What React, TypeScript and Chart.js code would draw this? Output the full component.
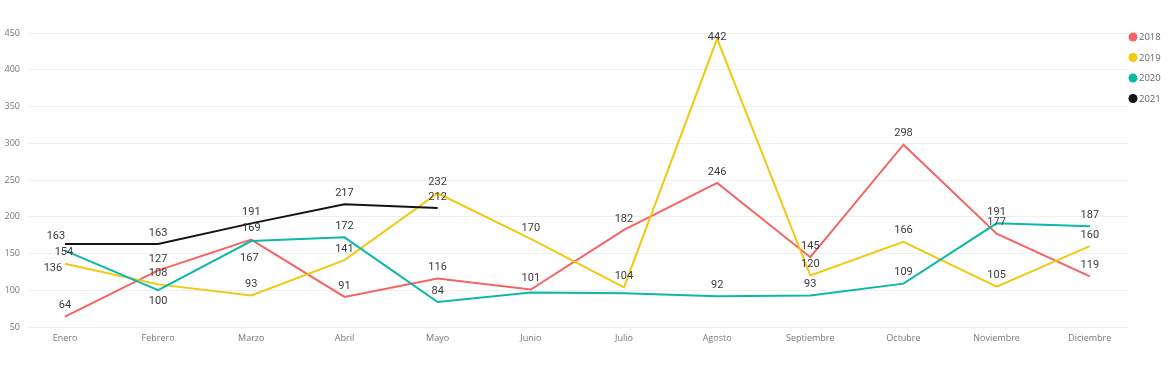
import React, { useEffect, useRef } from "react";
import { Chart, registerables } from "chart.js";

Chart.register(...registerables);

const months = [
  "Enero", "Febrero", "Marzo", "Abril", "Mayo", "Junio",
  "Julio", "Agosto", "Septiembre", "Octubre", "Noviembre", "Diciembre",
];
const seriesNames = ["2018", "2019", "2020", "2021"];
const values2018 = [64, 127, 169, 91, 116, 101, 182, 246, 145, 298, 177, 119];
const values2019 = [136, 108, 93, 141, 232, 170, 104, 442, 120, 166, 105, 160];
const values2020 = [154, 100, 167, 172, 84, 97, 96, 92, 93, 109, 191, 187];
const values2021 = [163, 163, 191, 217, 212];
const yTicks = [50, 100, 150, 200, 250, 300, 350, 400, 450];

const seriesColors = ["#F56462", "#F2C811", "#0CB8A8", "#141414"];

// label placement tweaks (style only): key "series:index" -> [dx, dy]
const labelOffsets: Record<string, [number, number]> = {
  "2019:0": [-12, 4],
  "2020:0": [-1, 2],
  "2020:1": [0, 11],
  "2020:2": [-2, 17],
  "2019:7": [0, -2],
  "2021:0": [-9, -8],
  "2021:1": [0, -11],
};
const hiddenLabels = ["2020:5", "2020:6"];

const LABEL_FONT = "11px Roboto";
const AXIS_FONT_FAMILY = "'Open Sans'";

const dataLabelPlugin = {
  id: "dataLabels",
  afterDatasetsDraw(chart: any) {
    const ctx = chart.ctx;
    ctx.save();
    ctx.font = LABEL_FONT;
    ctx.fillStyle = "#3a3a3a";
    ctx.textAlign = "center";
    ctx.textBaseline = "middle";
    chart.data.datasets.forEach((ds: any, di: number) => {
      const meta = chart.getDatasetMeta(di);
      meta.data.forEach((pt: any, i: number) => {
        const key = `${ds.label}:${i}`;
        if (hiddenLabels.includes(key)) return;
        const raw = ds.data[i];
        if (raw == null) return;
        const off = labelOffsets[key] || [0, -11];
        ctx.fillText(String(raw.y), pt.x + off[0], pt.y + off[1]);
      });
    });
    ctx.restore();
  },
};

const legendPlugin = {
  id: "customLegend",
  afterDraw(chart: any) {
    const ctx = chart.ctx;
    ctx.save();
    ctx.font = `9.5px ${AXIS_FONT_FAMILY}`;
    ctx.textBaseline = "middle";
    ctx.textAlign = "left";
    const x = chart.chartArea.right + 5;
    chart.data.datasets.forEach((ds: any, i: number) => {
      const y = 37 + i * 20.5;
      ctx.beginPath();
      ctx.fillStyle = ds.borderColor;
      ctx.arc(x, y, 4.5, 0, Math.PI * 2);
      ctx.fill();
      ctx.fillStyle = "#666";
      ctx.fillText(ds.label, x + 6, y + 0.5);
    });
    ctx.restore();
  },
};

export default function App() {
  const canvasRef = useRef<HTMLCanvasElement | null>(null);

  useEffect(() => {
    if (!canvasRef.current) return;
    const allValues = [values2018, values2019, values2020, values2021];
    const chart = new Chart(canvasRef.current, {
      type: "line",
      data: {
        datasets: seriesNames.map((name, si) => ({
          label: name,
          data: allValues[si].map((v, i) => ({ x: i, y: v })),
          borderColor: seriesColors[si],
          backgroundColor: seriesColors[si],
          borderWidth: 2,
          pointRadius: 0,
          tension: 0,
          fill: false,
          order: 3 - si,
        })),
      },
      options: {
        responsive: false,
        maintainAspectRatio: false,
        animation: false,
        devicePixelRatio: 1,
        layout: { padding: { left: 0, right: 42, top: 33, bottom: 14 } },
        plugins: {
          legend: { display: false },
          tooltip: { enabled: false },
        },
        scales: {
          x: {
            type: "linear",
            min: -0.386,
            max: 11.41,
            afterBuildTicks: (s: any) => {
              s.ticks = months.map((_, i) => ({ value: i }));
            },
            afterFit: (s: any) => {
              s.height = 30;
            },
            grid: { display: false, drawTicks: false },
            border: { display: false },
            ticks: {
              autoSkip: false,
              maxRotation: 0,
              padding: 6,
              color: "#777",
              font: { family: AXIS_FONT_FAMILY, size: 9 },
              callback: (v: any) => months[v as number] ?? "",
            },
          },
          y: {
            min: 50,
            max: 450,
            afterBuildTicks: (s: any) => {
              s.ticks = yTicks.map((v) => ({ value: v }));
            },
            afterFit: (s: any) => {
              s.width = 29;
            },
            grid: { color: "#efefef", lineWidth: 1, drawTicks: false },
            border: { display: false },
            ticks: {
              padding: 9,
              color: "#777",
              font: { family: AXIS_FONT_FAMILY, size: 9 },
            },
          },
        },
      },
      plugins: [dataLabelPlugin, legendPlugin],
    } as any);
    return () => chart.destroy();
  }, []);

  return (
    <div
      style={{
        position: "fixed",
        left: 0,
        top: 0,
        width: 1170,
        height: 371,
        background: "#fff",
      }}
    >
      <canvas ref={canvasRef} width={1170} height={371} />
    </div>
  );
}
